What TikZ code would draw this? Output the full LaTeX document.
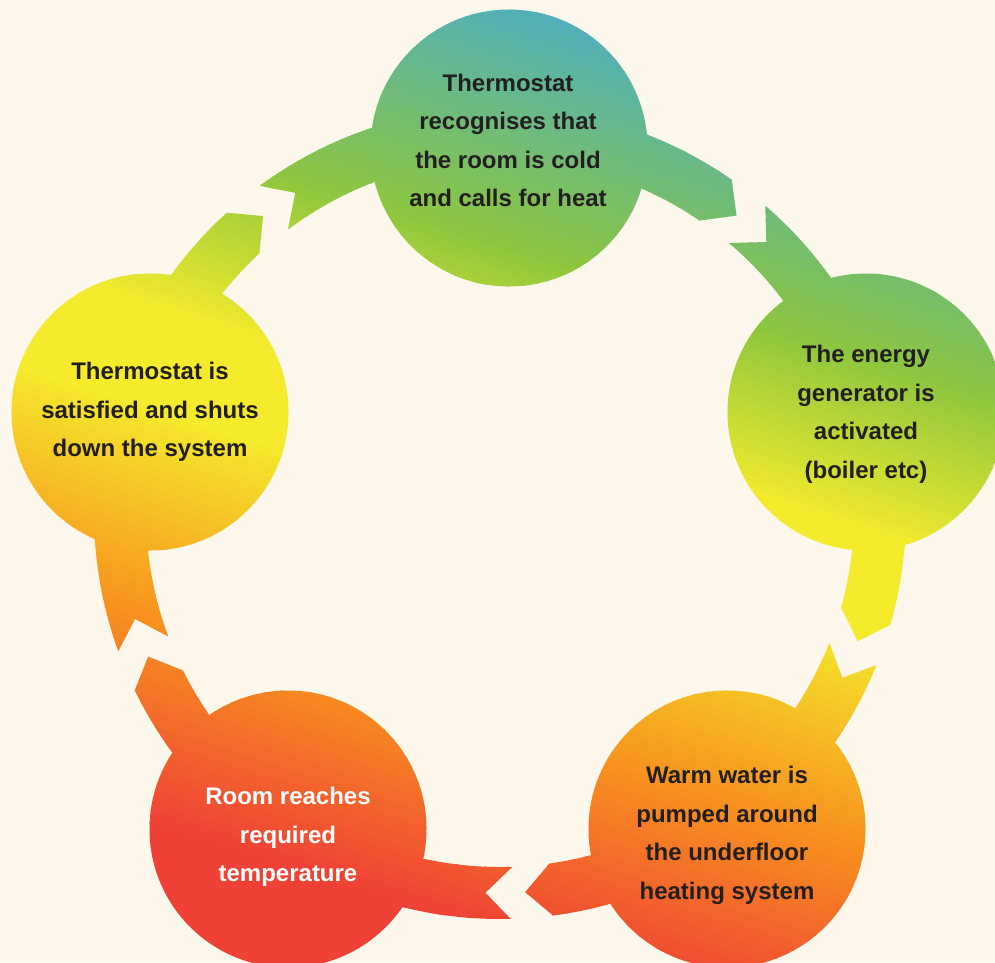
\documentclass[tikz,border=0pt]{standalone}
\usepackage{fontspec}
\setmainfont{Liberation Sans}
\definecolor{bg}{RGB}{253,247,236}
\definecolor{gT}{RGB}{76,174,196}
\definecolor{gG}{RGB}{140,198,63}
\definecolor{gY}{RGB}{245,235,44}
\definecolor{gO}{RGB}{247,148,30}
\definecolor{gR}{RGB}{239,65,54}
\definecolor{ink}{RGB}{35,31,32}
\newcommand\ringgrad{%
 \begin{scope}[rotate=-17.5]
  \fill[gT] (-200,-600) rectangle (1400,-169);
  \fill[gY] (-200,249) rectangle (1400,341);
  \fill[gR] (-200,739) rectangle (1400,1300);
  \foreach \sa/\sb/\ca/\cb in {-170/80/gT/gG,80/250/gG/gY,340/540/gY/gO,540/740/gO/gR}{
    \foreach \k in {0,...,29}{
      \pgfmathsetmacro\ya{\sa+(\sb-\sa)*\k/30}
      \pgfmathsetmacro\yb{\sa+(\sb-\sa)*(\k+1)/30+1}
      \pgfmathtruncatemacro\pp{(100*\k+50)/30}
      \fill[\cb!\pp!\ca] (-200,\ya) rectangle (1400,\yb);
    }}
 \end{scope}}
% band piece: #1 notch angle (start), #2 tip angle (end)
\newcommand\bandpath[2]{%
 ({#1}:380) -- ({#1-3.7}:406) arc[start angle={#1-3.7}, end angle={#2-3.7}, radius=406]
 -- ({#2}:380) -- ({#2-4.2}:354) arc[start angle={#2-4.2}, end angle={#1-4.2}, radius=354] -- cycle}
\tikzset{
  disc/.style={circle, minimum size=277pt, inner sep=0pt},
  label/.style={align=center, text=ink, font=\fontsize{24}{38.5}\selectfont\bfseries},
  labelw/.style={label, text=white}
}
\begin{document}
\begin{tikzpicture}[x=1pt,y=-1pt]
\useasboundingbox (0,0) rectangle (995,962);
\fill[bg] (0,0) rectangle (995,962);
\clip (0,0) rectangle (995,962);
\coordinate (O) at (500,513);
% circles (nodes)
\node[disc] (c1) at (509,148) {};
\node[disc] (c2) at (866,412) {};
\node[disc] (c3) at (727,829) {};
\node[disc] (c4) at (288,829) {};
\node[disc] (c5) at (150,412) {};
% arrow bands
\foreach \na/\ta in {237.4/308.5, 314.5/379.7, 25.7/86.2, 92.2/157.8, 163.8/231.4}{
  \begin{scope}
    \clip[shift={(O)}] \bandpath{\na}{\ta};
    \ringgrad
  \end{scope}
}
% discs
\foreach \c in {c1,c2,c3,c4,c5}{
  \begin{scope}
    \clip (\c.center) circle[radius=138.5pt];
    \ringgrad
  \end{scope}
}
% texts
\node[label] (t1) at (508,140.5) {Thermostat\\recognises that\\the room is cold\\and calls for heat};
\node[label] (t2) at (866,414.5) {The energy\\generator is\\activated\\(boiler etc)};
\node[label] (t3) at (727,835.5) {Warm water is\\pumped around\\the underfloor\\heating system};
\node[labelw] (t4) at (288,837) {Room reaches\\required\\temperature};
\node[label] (t5) at (150,412) {Thermostat is\\satisfied and shuts\\down the system};
\end{tikzpicture}
\end{document}
